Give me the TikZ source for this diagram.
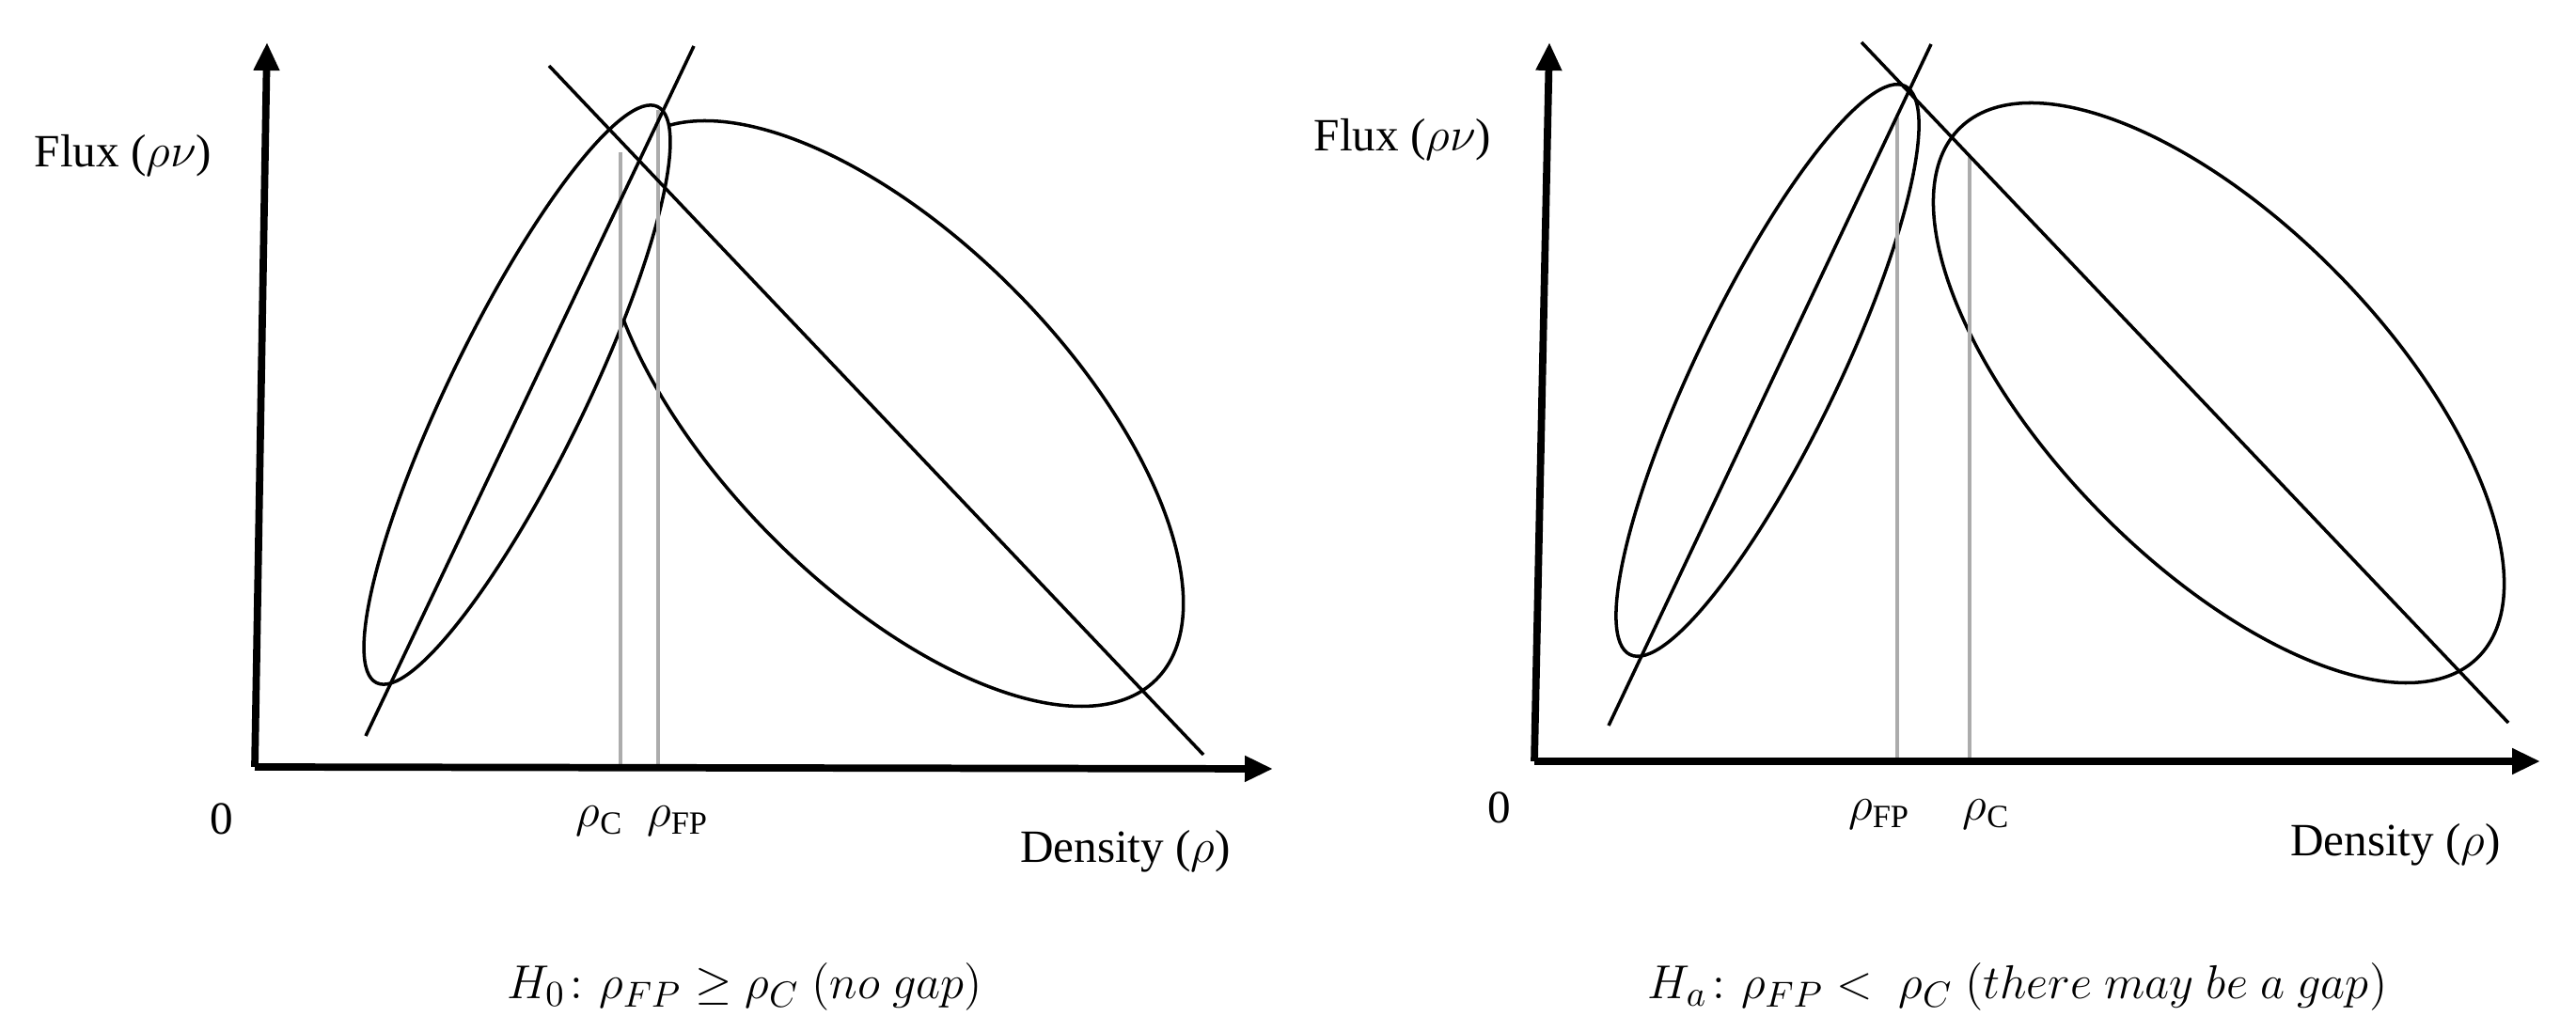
\documentclass[tikz,border=0pt]{standalone}
\usepackage{fontspec}
\usepackage{amsmath}
\setmainfont{Liberation Serif}
\usetikzlibrary{arrows.meta}

\tikzset{
  axis/.style={line width=2.2pt, -{Triangle[length=0.3cm,width=0.26cm]}},
  curve/.style={line width=1pt},
  guide/.style={line width=0.9pt, gray!65},
  lbl/.style={font=\fontsize{14}{16}\selectfont, inner sep=0pt},
  caption/.style={font=\fontsize{15}{17}\selectfont, inner sep=0pt},
}

\begin{document}
\begin{tikzpicture}
  \useasboundingbox (0,0) rectangle (27.4,10.97);

  % Sinistra: ellissi
  \draw[curve, rotate around={-45.4:(9.50,6.57)}] (9.50,6.57) ellipse (3.98 and 1.84);
  \draw[curve, fill=white, rotate around={64:(5.50,6.77)}] (5.50,6.77) ellipse (3.41 and 0.72);

  % Sinistra: rho
  \draw[guide] (6.60,2.81) -- (6.60,9.35);
  \draw[guide] (7.00,2.81) -- (7.00,9.80);

  % Sinistra: rette
  \draw[curve] (3.89,3.14) -- (7.38,10.48);
  \draw[curve] (5.84,10.27) -- (12.80,2.94);

  % Sinistra: assi
  \coordinate (oL) at (2.71,2.81);
  \draw[axis] (oL) -- (2.84,10.52);
  \draw[axis] (oL) -- (13.54,2.79);

  \node[lbl] (fluxL) at (1.31,9.31) {Flux ($\rho\nu$)};
  \node[lbl] (densL) at (11.97,1.91) {Density ($\rho$)};
  \node[lbl] (zeroL) at (2.36,2.26) {0};
  \node[lbl] (rcL) at (6.38,2.23) {$\rho_{\text{C}}$};
  \node[lbl] (rfpL) at (7.21,2.23) {$\rho_{\text{FP}}$};
  \node[caption] (capL) at (7.92,0.47) {$H_0\colon \rho_{FP} \geq \rho_C\ (no\ gap)$};

  % Destra: ellissi
  \draw[curve, rotate around={-45.7:(23.60,6.79)}] (23.60,6.79) ellipse (3.94 and 1.79);
  \draw[curve, fill=white, rotate around={64.2:(18.80,7.03)}] (18.80,7.03) ellipse (3.36 and 0.75);

  % Destra: rho
  \draw[guide] (20.18,2.87) -- (20.18,9.72);
  \draw[guide] (20.95,2.87) -- (20.95,9.32);

  % Destra: rette
  \draw[curve] (17.11,3.25) -- (20.54,10.50);
  \draw[curve] (19.80,10.52) -- (26.68,3.28);

  % Destra: assi
  \coordinate (oR) at (16.32,2.87);
  \draw[axis] (oR) -- (16.48,10.52);
  \draw[axis] (oR) -- (27.02,2.87);

  \node[lbl] (fluxR) at (14.92,9.48) {Flux ($\rho\nu$)};
  \node[lbl] (densR) at (25.48,1.98) {Density ($\rho$)};
  \node[lbl] (zeroR) at (15.95,2.38) {0};
  \node[lbl] (rfpR) at (19.99,2.30) {$\rho_{\text{FP}}$};
  \node[lbl] (rcR) at (21.13,2.30) {$\rho_{\text{C}}$};
  \node[caption] (capR) at (21.46,0.47) {$H_a\colon \rho_{FP} <\ \rho_C\ (there\ may\ be\ a\ gap)$};
\end{tikzpicture}
\end{document}
